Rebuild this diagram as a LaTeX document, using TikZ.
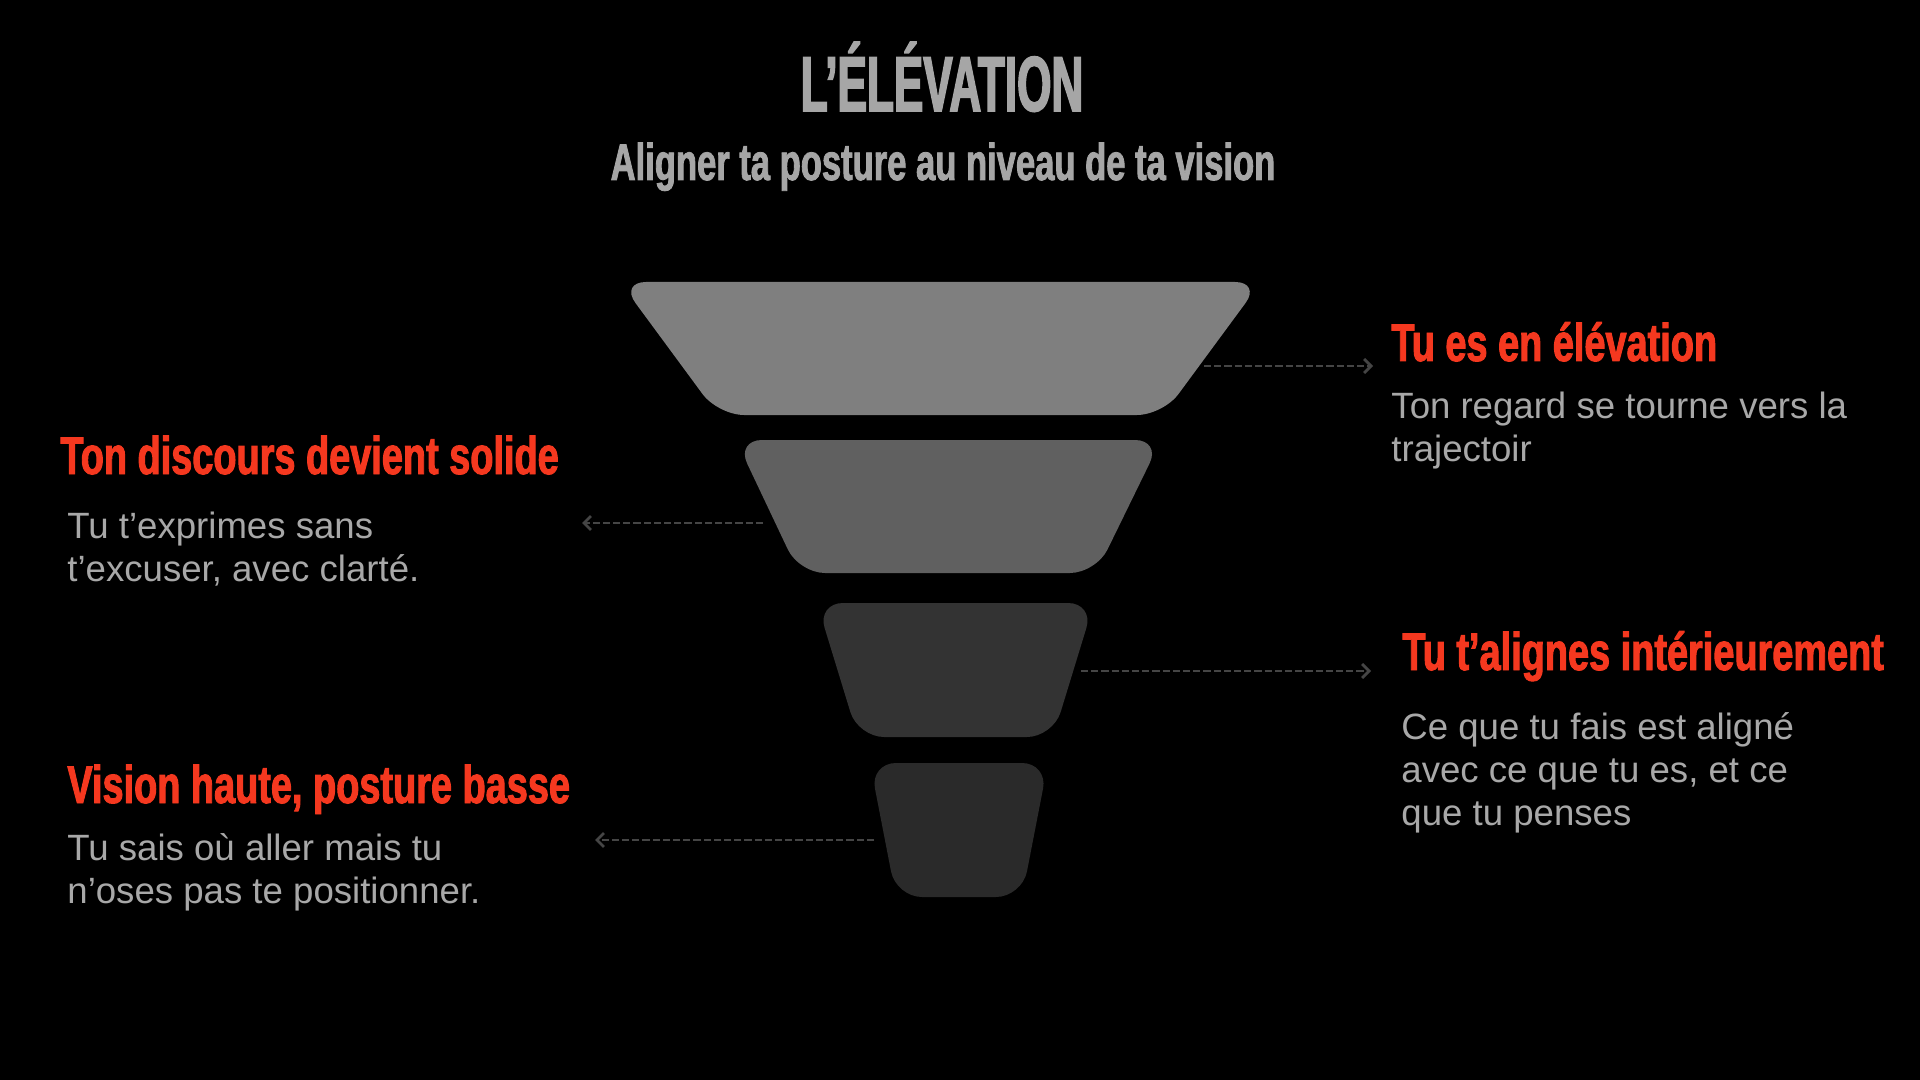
\documentclass[tikz,border=0pt]{standalone}
\usepackage{fontspec}
\setmainfont{Liberation Sans}
\newfontfamily\titlefont[FakeStretch=0.565,FakeBold=2]{Liberation Sans}
\newfontfamily\subfont[FakeStretch=0.67,FakeBold=1.6]{Liberation Sans}
\newfontfamily\headfont[FakeStretch=0.715,FakeBold=1.8]{Liberation Sans}
\usetikzlibrary{arrows.meta}
\definecolor{bg}{HTML}{000000}
\definecolor{titlegray}{HTML}{A6A6A6}
\definecolor{accent}{HTML}{F5381F}
\definecolor{bodygray}{HTML}{A8A8A8}
\definecolor{arrowgray}{HTML}{454545}
\definecolor{tierA}{HTML}{7F7F7F}
\definecolor{tierB}{HTML}{606060}
\definecolor{tierC}{HTML}{333333}
\definecolor{tierD}{HTML}{2A2A2A}
\tikzset{
  tier/.style={rounded corners=13pt, draw=none},
  titletext/.style={anchor=base, inner sep=0pt, text=titlegray, font=\titlefont\bfseries\fontsize{39}{44}\selectfont},
  subtext/.style={anchor=base, inner sep=0pt, text=titlegray, font=\subfont\bfseries\fontsize{25.8}{30}\selectfont},
  headtext/.style={anchor=base west, inner sep=0pt, text=accent, font=\headfont\bfseries\fontsize{26.5}{30}\selectfont},
  bodytext/.style={anchor=base west, inner sep=0pt, text=bodygray, font=\fontsize{18.3}{21.5}\selectfont},
  link/.style={draw=arrowgray, line width=1.4pt, dash pattern=on 3.6pt off 1.5pt, -{Straight Barb[length=3.5pt,width=7pt,line width=1.4pt]}}
}
\begin{document}
\begin{tikzpicture}[x=0.5pt,y=-0.5pt]
\fill[bg] (0,0) rectangle (1920,1080);
\useasboundingbox (0,0) rectangle (1920,1080);

% title
\node[titletext] (title) at (942,111) {L’ÉLÉVATION};
\node[subtext] (subtitle) at (943,180) {Aligner ta posture au niveau de ta vision};

% funnel tiers
\fill[tier, tierA] (620,282) -- (1261,282) -- (1163,415) -- (718,415) -- cycle;
\fill[tier, tierB] (736,440) -- (1161,440) -- (1096,573) -- (799,573) -- cycle;
\fill[tier, tierC] (817,603) -- (1094,603) -- (1053,737) -- (858,737) -- cycle;
\fill[tier, tierD] (870,763) -- (1048,763) -- (1022,897) -- (896,897) -- cycle;

% arrow anchors
\coordinate (a1s) at (1204,366);
\coordinate (a1e) at (1373,366);
\coordinate (a2s) at (763,523);
\coordinate (a2e) at (582,523);
\coordinate (a3s) at (1081,671);
\coordinate (a3e) at (1371,671);
\coordinate (a4s) at (874,840);
\coordinate (a4e) at (595,840);

\draw[link] (a1s) -- (a1e);
\draw[link] (a2s) -- (a2e);
\draw[link] (a3s) -- (a3e);
\draw[link] (a4s) -- (a4e);

% labels
\node[headtext] (h1) at (1391,361) {Tu es en élévation};
\node[bodytext] (b1) at (1391,418) {\begin{tabular}[t]{@{}l@{}}Ton regard se tourne vers la\\trajectoir\end{tabular}};

\node[headtext] (h2) at (60,474) {Ton discours devient solide};
\node[bodytext] (b2) at (67,538) {\begin{tabular}[t]{@{}l@{}}Tu t’exprimes sans\\t’excuser, avec clarté.\end{tabular}};

\node[headtext] (h3) at (1402,670) {Tu t’alignes intérieurement};
\node[bodytext] (b3) at (1401,739) {\begin{tabular}[t]{@{}l@{}}Ce que tu fais est aligné\\avec ce que tu es, et ce\\que tu penses\end{tabular}};

\node[headtext] (h4) at (67,803) {Vision haute, posture basse};
\node[bodytext] (b4) at (67,860) {\begin{tabular}[t]{@{}l@{}}Tu sais où aller mais tu\\n’oses pas te positionner.\end{tabular}};
\end{tikzpicture}
\end{document}
